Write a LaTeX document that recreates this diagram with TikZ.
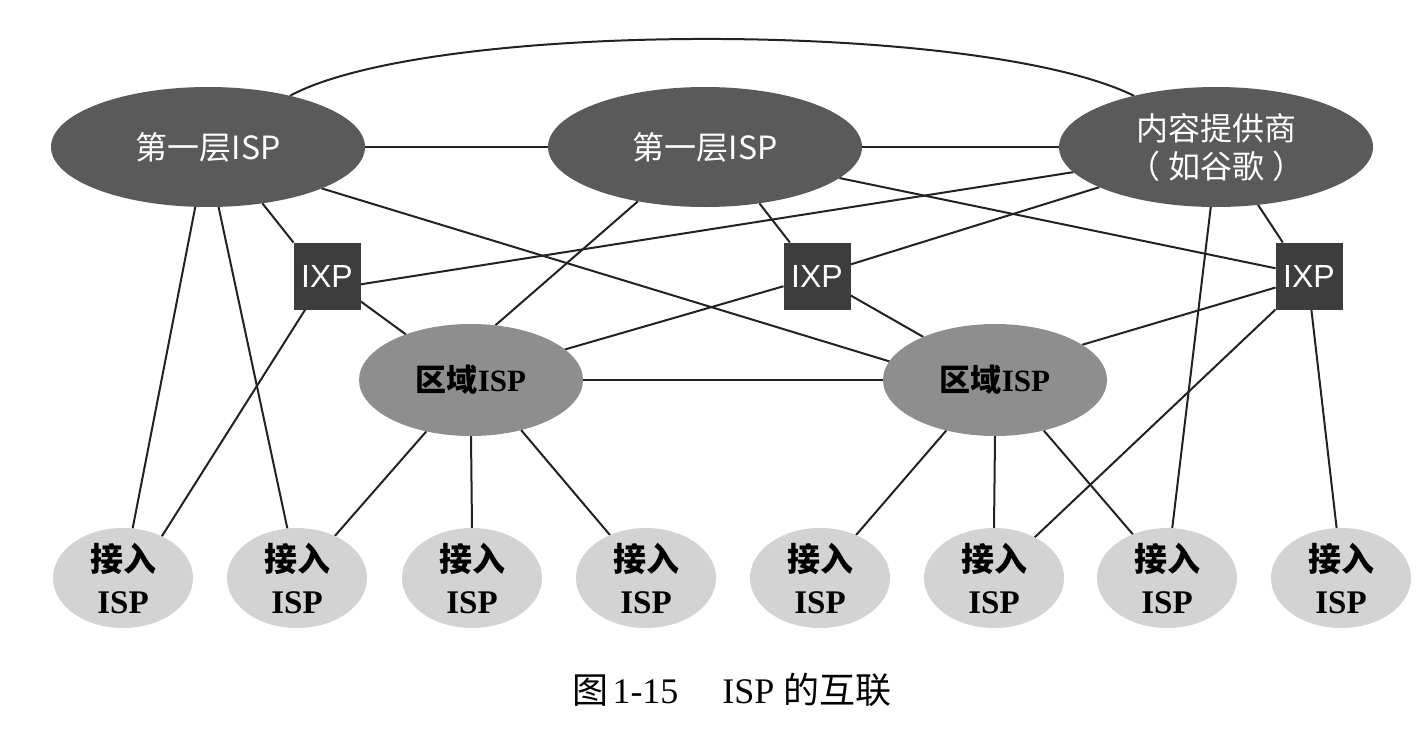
\documentclass[tikz,border=0pt]{standalone}
\usepackage{fontspec}
\setmainfont{Liberation Serif}
\newfontfamily\cjk{Noto Sans CJK SC}
\newfontfamily\ixpf{Liberation Sans}
\usetikzlibrary{shapes.geometric,backgrounds}
\definecolor{tiercol}{HTML}{5A5A5A}
\definecolor{ixpcol}{HTML}{3D3D3D}
\definecolor{regcol}{HTML}{8E8E8E}
\definecolor{acccol}{HTML}{D3D3D3}
\definecolor{linecol}{HTML}{222222}
\begin{document}
\begin{tikzpicture}[x=1pt,y=-1pt,
  tier/.style={ellipse, fill=tiercol, minimum width=314, minimum height=120,
    inner sep=0, outer sep=0, text=white, align=center,
    font=\cjk\fontsize{32}{38}\selectfont},
  ixpbox/.style={rectangle, fill=ixpcol, minimum size=67, inner sep=0, outer sep=0,
    text=white, font=\ixpf\fontsize{32}{36}\selectfont},
  regional/.style={ellipse, fill=regcol, minimum width=224, minimum height=112,
    inner sep=0, outer sep=0, font=\bfseries\fontsize{31}{36}\selectfont},
  access/.style={ellipse, fill=acccol, minimum width=140, minimum height=100,
    inner xsep=0, inner ysep=-15, outer sep=0, align=center,
    font=\bfseries\fontsize{33}{42}\selectfont},
  link/.style={draw=linecol, line width=2pt},
  caption/.style={font=\fontsize{36}{40}\selectfont, inner sep=0}
]
\useasboundingbox (0,0) rectangle (1420,728);

\node[tier] (A) at (208,147) {第一层ISP};
\node[tier] (B) at (705,147) {第一层ISP};
\node[tier] (C) at (1216,147) {内容提供商\\（\hspace{8pt}如谷歌\hspace{8pt}）};

\node[ixpbox] (X1) at (327,276) {IXP};
\node[ixpbox] (X2) at (817,276) {IXP};
\node[ixpbox] (X3) at (1309,276) {IXP};

\node[regional] (R1) at (471,380) {{\cjk 区域}ISP};
\node[regional] (R2) at (995,380) {{\cjk 区域}ISP};

\foreach \i/\x in {1/123,2/297,3/472,4/646,5/820,6/994,7/1167,8/1341}
  \node[access] (a\i) at (\x,578) {{\cjk 接入}\\ISP};

\node[caption] (cap) at (732,690) {{\cjk 图}\hspace{4pt}1-15\hspace{44pt}ISP {\cjk 的互联}};

\begin{scope}[on background layer]
\fill[white] (0,0) rectangle (1420,728);
\draw[link] (A.32) .. controls (430,20) and (980,20) .. (C.148);
\draw[link] (A.east) -- (B.west);
\draw[link] (B.east) -- (C.west);
\draw[link] (A.-46) -- (X1.north west);
\draw[link] (A.-20) -- (R2.170);
\draw[link] (A.-102) -- (a1.79);
\draw[link] (A.-80) -- (a2.101);
\draw[link] (X1.-123) -- (a1.47);
\draw[link] (X1.-37) -- (R1.145);
\draw[link] (X1.-14) -- (C.190);
\draw[link] (B.-141) -- (R1.66);
\draw[link] (B.-46) -- (X2.129);
\draw[link] (B.-13) -- (X3.167);
\draw[link] (X2.19) -- (C.199);
\draw[link] (X2.197) -- (R1.18);
\draw[link] (X2.-30) -- (R2.149);
\draw[link] (R1.east) -- (R2.west);
\draw[link] (R2.22) -- (X3.199);
\draw[link] (C.-54) -- (X3.128);
\draw[link] (C.-95) -- (a7.84);
\draw[link] (X3.south west) -- (a6.45);
\draw[link] (X3.-86) -- (a8.95);
\draw[link] (R1.-131) -- (a2.48);
\draw[link] (R1.south) -- (a3.north);
\draw[link] (R1.-45) -- (a4.130);
\draw[link] (R2.-134) -- (a5.50);
\draw[link] (R2.south) -- (a6.north);
\draw[link] (R2.-46) -- (a7.128);
\end{scope}
\end{tikzpicture}
\end{document}
